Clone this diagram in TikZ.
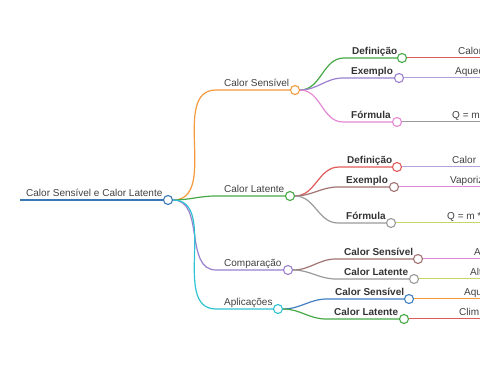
\documentclass[tikz,border=0pt]{standalone}
\usepackage{fontspec}
\setmainfont{Liberation Sans}
\definecolor{rootblue}{HTML}{3A78B5}
\definecolor{corange}{HTML}{F39A3C}
\definecolor{cgreen}{HTML}{45A845}
\definecolor{cred}{HTML}{E05A5A}
\definecolor{cpurple}{HTML}{9A7FD0}
\definecolor{clav}{HTML}{B3A3DC}
\definecolor{cpink}{HTML}{E388D2}
\definecolor{cbrown}{HTML}{A07272}
\definecolor{cgray}{HTML}{9A9A9A}
\definecolor{cyell}{HTML}{C3D767}
\definecolor{ccyan}{HTML}{2EC3D3}
\definecolor{cblue}{HTML}{3F7FC2}
\definecolor{txt}{HTML}{404040}

\begin{document}
\begin{tikzpicture}[x=1pt,y=-1pt,
  dot/.style={circle,draw=#1,fill=white,line width=1.1pt,minimum size=9pt,inner sep=0pt},
  br/.style={draw=#1,line width=1.2pt},
  lf/.style={draw=#1,line width=1pt},
  topic/.style={font=\fontsize{10}{12}\selectfont,text=txt,inner xsep=8pt,inner ysep=0pt,anchor=base west},
  sub/.style={topic,font=\fontsize{10}{12}\selectfont\bfseries,text=black!80},
  leaf/.style={topic,inner xsep=0pt}]
  \useasboundingbox (0,0) rectangle (480,379);
  \clip (0,0) rectangle (480,379);
  \coordinate (edge) at (480,0);

  % root
  \node[dot=rootblue] (root) at (168,200) {};
  \node[topic,inner xsep=6pt] (root-t) at (20,197) {Calor Sensível e Calor Latente};
  \draw[br=rootblue] (root-t.west |- root) -- (root);

  % Calor Sensivel
  \node[dot=corange] (cs) at (295,90) {};
  \node[topic] (cs-t) at (216,87) {Calor Sensível};
  \draw[br=corange] (root) to[out=0,in=180] (cs-t.west |- cs) -- (cs);

  \node[dot=cgreen] (cs-def) at (402,58) {};
  \node[sub] (cs-def-t) at (344,55) {Definição};
  \draw[br=cgreen] (cs) to[out=0,in=180] (cs-def-t.west |- cs-def) -- (cs-def);
  \node[leaf] (cs-def-l) at (458,55) {Calor};
  \draw[lf=cred] (cs-def) -- (cs-def -| edge);

  \node[dot=cpurple] (cs-ex) at (399,78) {};
  \node[sub] (cs-ex-t) at (343,75) {Exemplo};
  \draw[br=cpurple] (cs) to[out=0,in=180] (cs-ex-t.west |- cs-ex) -- (cs-ex);
  \node[leaf] (cs-ex-l) at (455,75) {Aquecer};
  \draw[lf=clav] (cs-ex) -- (cs-ex -| edge);

  \node[dot=cpink] (cs-fo) at (397,122) {};
  \node[sub] (cs-fo-t) at (343,119) {Fórmula};
  \draw[br=cpink] (cs) to[out=0,in=180] (cs-fo-t.west |- cs-fo) -- (cs-fo);
  \node[leaf] (cs-fo-l) at (452,119) {Q = m};
  \draw[lf=cgray] (cs-fo) -- (cs-fo -| edge);

  % Calor Latente
  \node[dot=cgreen] (cl) at (290,196) {};
  \node[topic] (cl-t) at (216,193) {Calor Latente};
  \draw[br=cgreen] (root) to[out=0,in=180] (cl-t.west |- cl) -- (cl);

  \node[dot=cred] (cl-def) at (397,167) {};
  \node[sub] (cl-def-t) at (339,164) {Definição};
  \draw[br=cred] (cl) to[out=0,in=180] (cl-def-t.west |- cl-def) -- (cl-def);
  \node[leaf] (cl-def-l) at (452,164) {Calor};
  \draw[lf=clav] (cl-def) -- (cl-def -| edge);

  \node[dot=cbrown] (cl-ex) at (394,187) {};
  \node[sub] (cl-ex-t) at (338,184) {Exemplo};
  \draw[br=cbrown] (cl) to[out=0,in=180] (cl-ex-t.west |- cl-ex) -- (cl-ex);
  \node[leaf] (cl-ex-l) at (450,184) {Vaporiz};
  \draw[lf=cpink] (cl-ex) -- (cl-ex -| edge);

  \node[dot=cgray] (cl-fo) at (391,223) {};
  \node[sub] (cl-fo-t) at (338,220) {Fórmula};
  \draw[br=cgray] (cl) to[out=0,in=180] (cl-fo-t.west |- cl-fo) -- (cl-fo);
  \node[leaf] (cl-fo-l) at (447,220) {Q = m *};
  \draw[lf=cyell] (cl-fo) -- (cl-fo -| edge);

  % Comparacao
  \node[dot=cpurple] (cmp) at (288,270) {};
  \node[topic] (cmp-t) at (216,267) {Comparação};
  \draw[br=cpurple] (root) to[out=0,in=180] (cmp-t.west |- cmp) -- (cmp);

  \node[dot=cbrown] (cmp-s) at (418,259) {};
  \node[sub] (cmp-s-t) at (336,256) {Calor Sensível};
  \draw[br=cbrown] (cmp) to[out=0,in=180] (cmp-s-t.west |- cmp-s) -- (cmp-s);
  \node[leaf] (cmp-s-l) at (474,256) {A};
  \draw[lf=cpink] (cmp-s) -- (cmp-s -| edge);

  \node[dot=cgray] (cmp-l) at (414,279) {};
  \node[sub] (cmp-l-t) at (336,276) {Calor Latente};
  \draw[br=cgray] (cmp) to[out=0,in=180] (cmp-l-t.west |- cmp-l) -- (cmp-l);
  \node[leaf] (cmp-l-l) at (470,276) {Alt};
  \draw[lf=cyell] (cmp-l) -- (cmp-l -| edge);

  % Aplicacoes
  \node[dot=ccyan] (apl) at (278,309) {};
  \node[topic] (apl-t) at (216,306) {Aplicações};
  \draw[br=ccyan] (root) to[out=0,in=180] (apl-t.west |- apl) -- (apl);

  \node[dot=cblue] (apl-s) at (409,299) {};
  \node[sub] (apl-s-t) at (327,296) {Calor Sensível};
  \draw[br=cblue] (apl) to[out=0,in=180] (apl-s-t.west |- apl-s) -- (apl-s);
  \node[leaf] (apl-s-l) at (464,296) {Aqu};
  \draw[lf=corange] (apl-s) -- (apl-s -| edge);

  \node[dot=cgreen] (apl-l) at (404,319) {};
  \node[sub] (apl-l-t) at (326,316) {Calor Latente};
  \draw[br=cgreen] (apl) to[out=0,in=180] (apl-l-t.west |- apl-l) -- (apl-l);
  \node[leaf] (apl-l-l) at (459,316) {Clim};
  \draw[lf=cred] (apl-l) -- (apl-l -| edge);
\end{tikzpicture}
\end{document}
